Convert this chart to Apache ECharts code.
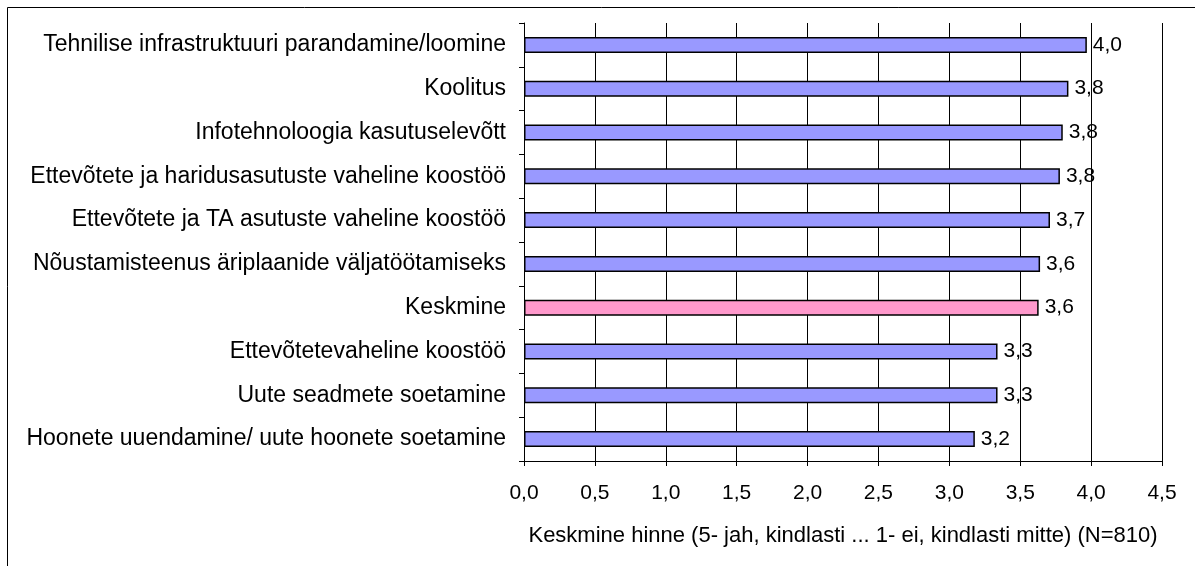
<!DOCTYPE html>
<html><head><meta charset="utf-8">
<script src="https://cdn.jsdelivr.net/npm/echarts@6/dist/echarts.min.js"></script>
<style>html,body{margin:0;padding:0;background:#fff}#c{width:1195px;height:566px}</style>
</head><body><div id="c"></div>
<script>
var categories = [
  "Tehnilise infrastruktuuri parandamine/loomine",
  "Koolitus",
  "Infotehnoloogia kasutuselevõtt",
  "Ettevõtete ja haridusasutuste vaheline koostöö",
  "Ettevõtete ja TA asutuste vaheline koostöö",
  "Nõustamisteenus äriplaanide väljatöötamiseks",
  "Keskmine",
  "Ettevõtetevaheline koostöö",
  "Uute seadmete soetamine",
  "Hoonete uuendamine/ uute hoonete soetamine"
];
var values = [3.97, 3.84, 3.80, 3.78, 3.71, 3.64, 3.63, 3.34, 3.34, 3.18];
var highlight = "Keskmine";
var xTicks = ["0,0","0,5","1,0","1,5","2,0","2,5","3,0","3,5","4,0","4,5"];
var axisName = "Keskmine hinne (5- jah, kindlasti ... 1- ei, kindlasti mitte) (N=810)";

var chart = echarts.init(document.getElementById('c'), null, {renderer:'canvas'});
var font = "'Liberation Sans', Arial, sans-serif";
chart.setOption({
  animation:false,
  backgroundColor:'#fff',
  grid:{left:524, right:33, top:23, bottom:105, containLabel:false},
  graphic:[
    {type:'line', shape:{x1:7.5,y1:7.5,x2:1195,y2:7.5}, style:{stroke:'#000',lineWidth:1}},
    {type:'line', shape:{x1:7.5,y1:7.5,x2:7.5,y2:566}, style:{stroke:'#000',lineWidth:1}}
  ],
  xAxis:{
    type:'value', min:0, max:4.5, interval:0.5,
    axisLine:{show:true, lineStyle:{color:'#000', width:1}},
    axisTick:{show:true, length:5, lineStyle:{color:'#000'}},
    splitLine:{show:true, lineStyle:{color:'#000', width:1}},
    axisLabel:{color:'#000', fontFamily:font, fontSize:21, margin:22,
      formatter:function(v){ var i=Math.round(v/0.5); return xTicks[i]!==undefined?xTicks[i]:''; }},
    name:axisName, nameLocation:'middle', nameGap:64,
    nameTextStyle:{color:'#000', fontFamily:font, fontSize:22}
  },
  yAxis:{
    type:'category', inverse:true, data:categories,
    axisLine:{show:true, lineStyle:{color:'#000', width:1}},
    axisTick:{show:true, length:5, alignWithLabel:false, lineStyle:{color:'#000'}},
    splitLine:{show:false},
    axisLabel:{color:'#000', fontFamily:font, fontSize:23, margin:18}
  },
  series:[{
    type:'bar', barWidth:16,
    data:values.map(function(v,i){
      return {value:v, itemStyle:{color: categories[i]===highlight ? '#FF99CC' : '#9999FF', borderColor:'#000', borderWidth:1.5}};
    }),
    label:{show:true, position:'right', distance:6, color:'#000', fontFamily:font, fontSize:21,
      formatter:function(p){ return p.value.toFixed(1).replace('.', ','); }}
  }]
});
</script></body></html>
